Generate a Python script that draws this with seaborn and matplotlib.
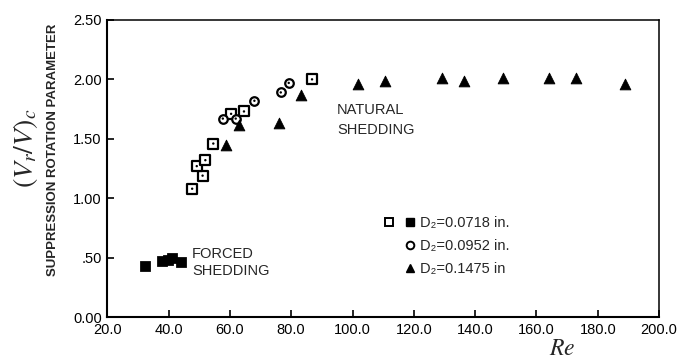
import matplotlib
matplotlib.use("Agg")
import matplotlib.pyplot as plt
import seaborn as sns
import pandas as pd
from matplotlib.lines import Line2D
from matplotlib.legend_handler import HandlerTuple

# ---- data ----
sq_open_re = [47.7, 51.1, 49.2, 52.0, 54.6, 60.4, 64.6, 86.8]
sq_open_v = [1.08, 1.19, 1.27, 1.32, 1.46, 1.71, 1.73, 2.00]

sq_fill_re = [32.3, 37.8, 39.8, 41.2, 44.0]
sq_fill_v = [0.43, 0.47, 0.48, 0.50, 0.46]

circ_re = [57.7, 61.9, 68.0, 76.6, 79.2]
circ_v = [1.67, 1.67, 1.82, 1.89, 1.97]

tri_re = [58.8, 63.0, 76.0, 83.3, 101.7, 110.5, 129.2, 136.5, 149.2, 164.1, 173.0, 188.9]
tri_v = [1.45, 1.62, 1.63, 1.87, 1.96, 1.99, 2.01, 1.99, 2.01, 2.01, 2.01, 1.96]

x_ticks = [20, 40, 60, 80, 100, 120, 140, 160, 180, 200]
x_ticklabels = ["20.0", "40.0", "60.0", "80.0", "100.0", "120.0", "140.0", "160.0", "180.0", "200.0"]
y_ticks = [0.0, 0.5, 1.0, 1.5, 2.0, 2.5]
y_ticklabels = ["0.00", ".50", "1.00", "1.50", "2.00", "2.50"]

legend_labels = ["D\u2082=0.0718 in.", "D\u2082=0.0952 in.", "D\u2082=0.1475 in"]

sns.set_theme(style="white")
plt.rcParams["font.family"] = ["Liberation Sans", "DejaVu Sans"]

fig = plt.figure(figsize=(6.83, 3.62), dpi=100)
ax = fig.add_axes([0.157, 0.124, 0.808, 0.821])

df_sq = pd.DataFrame({"Re": sq_open_re, "V": sq_open_v})
df_sf = pd.DataFrame({"Re": sq_fill_re, "V": sq_fill_v})
df_c = pd.DataFrame({"Re": circ_re, "V": circ_v})
df_t = pd.DataFrame({"Re": tri_re, "V": tri_v})

sns.scatterplot(data=df_sq, x="Re", y="V", marker="s", s=42, facecolor="white",
                edgecolor="black", linewidth=1.6, ax=ax, zorder=3)
sns.scatterplot(data=df_sq, x="Re", y="V", marker="o", s=3, color="black",
                edgecolor="none", ax=ax, zorder=4)
sns.scatterplot(data=df_c, x="Re", y="V", marker="o", s=38, facecolor="white",
                edgecolor="black", linewidth=1.6, ax=ax, zorder=3)
sns.scatterplot(data=df_c, x="Re", y="V", marker="o", s=3, color="black",
                edgecolor="none", ax=ax, zorder=4)
sns.scatterplot(data=df_sf, x="Re", y="V", marker="s", s=48, color="black",
                edgecolor="black", ax=ax, zorder=3)
sns.scatterplot(data=df_t, x="Re", y="V", marker="^", s=60, color="black",
                edgecolor="black", ax=ax, zorder=3)

ax.set_xlim(20, 200)
ax.set_ylim(0, 2.5)
ax.set_xticks(x_ticks)
ax.set_xticklabels(x_ticklabels)
ax.set_yticks(y_ticks)
ax.set_yticklabels(y_ticklabels)
ax.tick_params(axis="both", direction="in", length=5, width=1.2, labelsize=10.5,
               colors="black", pad=4, left=True, bottom=True)
for sp in ax.spines.values():
    sp.set_visible(True)
    sp.set_color("black")
    sp.set_linewidth(1.1)
ax.spines["left"].set_linewidth(1.5)
ax.spines["bottom"].set_linewidth(1.5)
ax.set_xlabel("")
ax.set_ylabel("")

# axis titles
fig.text(0.037, 0.59, r"$(V_r/V)_c$", rotation=90, ha="center", va="center",
         fontsize=20, math_fontfamily="stix")
fig.text(0.078, 0.585, "SUPPRESSION ROTATION PARAMETER", rotation=90,
         ha="center", va="center", fontsize=9.5, fontweight="bold")
fig.text(0.823, 0.035, r"$Re$", ha="center", va="center", fontsize=17,
         math_fontfamily="stix")

# annotations
ax.text(95.0, 1.80, "NATURAL\nSHEDDING", ha="left", va="top", fontsize=10.5,
        linespacing=1.55)
ax.text(47.6, 0.59, "FORCED\nSHEDDING", ha="left", va="top", fontsize=10.5,
        linespacing=1.25)

# legend
blank = Line2D([], [], linestyle="none", marker=None)
h_sq_open = Line2D([], [], linestyle="none", marker="s", markersize=5.5,
                   markerfacecolor="white", markeredgecolor="black", markeredgewidth=1.4)
h_sq_fill = Line2D([], [], linestyle="none", marker="s", markersize=5.5,
                   markerfacecolor="black", markeredgecolor="black")
h_circ = Line2D([], [], linestyle="none", marker="o", markersize=5.5,
                markerfacecolor="white", markeredgecolor="black", markeredgewidth=1.4)
h_tri = Line2D([], [], linestyle="none", marker="^", markersize=6,
               markerfacecolor="black", markeredgecolor="black")
ax.legend([(h_sq_open, h_sq_fill), (blank, h_circ), (blank, h_tri)], legend_labels,
          handler_map={tuple: HandlerTuple(ndivide=None, pad=0.6)},
          loc="upper left", bbox_to_anchor=(0.49, 0.36), frameon=False,
          fontsize=10.5, handlelength=2.2, handletextpad=0.3, labelspacing=0.62,
          borderaxespad=0)

fig.savefig("out.png", dpi=100)
